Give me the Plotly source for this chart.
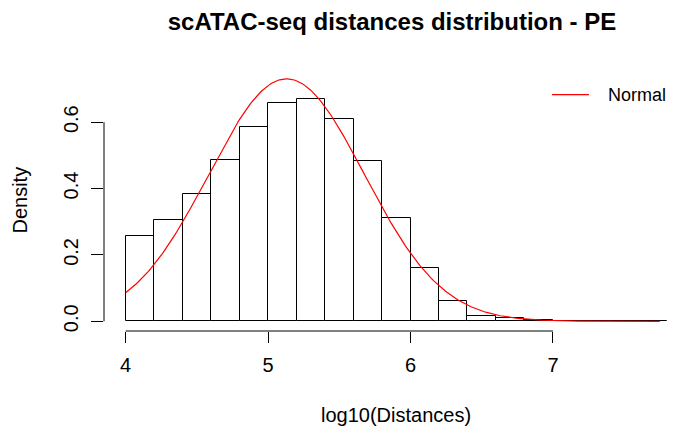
import numpy as np
import plotly.graph_objects as go

# Histogram of log10 distances (density scale), bins of width 0.2
bin_left = [4.0, 4.2, 4.4, 4.6, 4.8, 5.0, 5.2, 5.4, 5.6, 5.8,
            6.0, 6.2, 6.4, 6.6, 6.8, 7.0, 7.2, 7.4, 7.6]
density = [0.258, 0.306, 0.385, 0.486, 0.586, 0.658, 0.671, 0.611, 0.482, 0.312,
           0.160, 0.061, 0.017, 0.009, 0.004, 0.002, 0.001, 0.0005, 0.0003]
bin_width = 0.2

# Fitted normal distribution parameters
norm_mean = 5.13
norm_sd = 0.546
curve_from, curve_to = 4.0, 7.75

x_ticks = [4, 5, 6, 7]
y_ticks = [0.0, 0.2, 0.4, 0.6]
y_ticklabels = ["0.0", "0.2", "0.4", "0.6"]

title_text = "scATAC-seq distances distribution - PE"
x_label = "log10(Distances)"
y_label = "Density"
legend_label = "Normal"

FONT = "Liberation Sans, Arial, sans-serif"

centers = [b + bin_width / 2 for b in bin_left]
xs = np.linspace(curve_from, curve_to, 400)
ys = np.exp(-0.5 * ((xs - norm_mean) / norm_sd) ** 2) / (norm_sd * np.sqrt(2 * np.pi))

fig = go.Figure()
fig.add_trace(go.Bar(
    x=centers, y=density, width=bin_width,
    marker=dict(color="white", line=dict(color="black", width=1)),
    showlegend=False, hoverinfo="skip",
))
fig.add_trace(go.Scatter(
    x=xs, y=ys, mode="lines",
    line=dict(color="red", width=1.2),
    showlegend=False, hoverinfo="skip",
))

W, H = 673, 432
left, top, bottom = 104.4, 69.4, 432 - 330.7
xr = [3.848, 3.848 + (W - left) / 142.33]
yr = [-0.02924, 0.7603]
legend_y = (330.7 - 95) / (330.7 - 69.4)

# R-style axis lines spanning only the tick range
shapes = [
    dict(type="line", xref="x", yref="paper", x0=x_ticks[0], x1=x_ticks[-1], y0=0, y1=0,
         line=dict(color="black", width=1)),
    dict(type="line", xref="paper", yref="y", x0=0, x1=0, y0=y_ticks[0], y1=y_ticks[-1],
         line=dict(color="black", width=1)),
    # legend key
    dict(type="line", xref="paper", yref="paper",
         x0=(552 - left) / (W - left), x1=(589 - left) / (W - left),
         y0=legend_y, y1=legend_y,
         line=dict(color="red", width=1.2)),
]

annotations = [
    dict(text=legend_label, xref="paper", yref="paper",
         x=(606 - left) / (W - left), y=legend_y,
         xanchor="left", yanchor="middle", showarrow=False,
         font=dict(family=FONT, size=18, color="black")),
    dict(text=x_label, xref="paper", yref="paper",
         x=(396 - left) / (W - left), y=-(414 - 330.7) / (330.7 - 69.4),
         xanchor="center", yanchor="middle", showarrow=False,
         font=dict(family=FONT, size=20, color="black")),
    dict(text=y_label, xref="paper", yref="paper",
         x=-(left - 20) / (W - left), y=0.5, textangle=-90,
         xanchor="center", yanchor="middle", showarrow=False,
         font=dict(family=FONT, size=20, color="black")),
]

fig.update_layout(
    width=W, height=H,
    margin=dict(l=left, r=0, t=top, b=bottom, pad=0),
    paper_bgcolor="white", plot_bgcolor="white",
    bargap=0,
    title=dict(text="<b>" + title_text + "</b>", x=392 / W, xanchor="center",
               y=1 - 22 / H, yanchor="middle",
               font=dict(family=FONT, size=24, color="black")),
    xaxis=dict(range=xr, tickvals=x_ticks, ticks="outside", ticklen=11,
               tickcolor="black", tickwidth=1, showline=False, showgrid=False,
               zeroline=False, ticklabelstandoff=5,
               tickfont=dict(family=FONT, size=20, color="black")),
    yaxis=dict(range=yr, tickvals=y_ticks, ticktext=y_ticklabels, ticks="outside",
               ticklen=12, tickcolor="black", tickwidth=1, tickangle=-90,
               showline=False, showgrid=False, zeroline=False, ticklabelstandoff=5,
               tickfont=dict(family=FONT, size=20, color="black")),
    shapes=shapes, annotations=annotations,
)

fig.write_html("out.html")
